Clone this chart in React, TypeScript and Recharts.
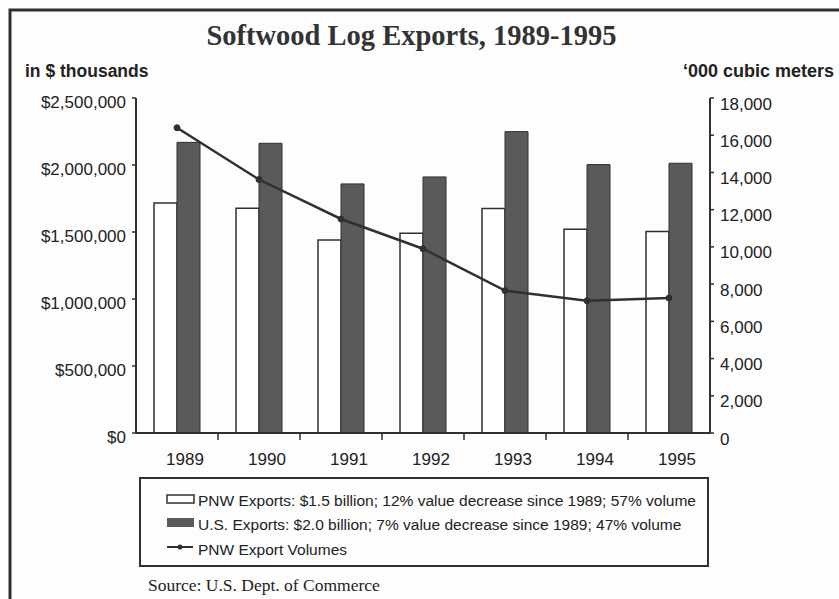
import React from 'react';
import { ComposedChart, Bar, Line, XAxis, YAxis } from 'recharts';

const years = ['1989', '1990', '1991', '1992', '1993', '1994', '1995'];
const pnwExports = [1717000, 1677000, 1441000, 1491000, 1675000, 1521000, 1503000];
const usExports = [2169000, 2162000, 1859000, 1911000, 2249000, 2003000, 2013000];
const pnwVolumes = [16400, 13620, 11500, 9900, 7650, 7100, 7250];
const leftTicks = [0, 500000, 1000000, 1500000, 2000000, 2500000];
const rightTicks = [0, 2000, 4000, 6000, 8000, 10000, 12000, 14000, 16000, 18000];

const legendLabels = [
  'PNW Exports: $1.5 billion; 12% value decrease since 1989; 57% volume',
  'U.S. Exports: $2.0 billion; 7% value decrease since 1989; 47% volume',
  'PNW Export Volumes',
];

const data = years.map((year, i) => ({
  year,
  pnw: pnwExports[i],
  us: usExports[i],
  volume: pnwVolumes[i],
}));

const CHART_W = 839;
const CHART_H = 599;
const LEFT_W = 136;
const RIGHT_W = 129;
const BAND_HALF = (CHART_W - LEFT_W - RIGHT_W) / years.length / 2;

const INK = '#303030';
const DARK = '#5a5a5a';
const SANS = '"Liberation Sans", Arial, sans-serif';
const SERIF = '"Liberation Serif", "Times New Roman", serif';

const fmtMoney = (v: number) => '$' + v.toLocaleString('en-US');
const fmtNum = (v: number) => v.toLocaleString('en-US');

function XTick(props: any) {
  const { x, y, payload } = props;
  const idx = years.indexOf(String(payload.value));
  const last = idx === years.length - 1;
  const tx = Number(x) + BAND_HALF;
  const ty = Number(y);
  return (
    <g className="year-tick">
      {!last && <rect x={tx - 0.75} y={ty} width={1.5} height={7} fill={INK} stroke="none" />}
      <text
        x={Number(x) + 8}
        y={ty + 26}
        textAnchor="middle"
        dominantBaseline="central"
        fontFamily={SANS}
        fontSize={17}
        fill="#222"
        stroke="none"
      >
        {payload.value}
      </text>
    </g>
  );
}

function LeftTick(props: any) {
  const { x, y, payload } = props;
  return (
    <text x={x} y={y + 4} textAnchor="end" dominantBaseline="central" fontFamily={SANS} fontSize={17} fill="#222">
      {fmtMoney(payload.value)}
    </text>
  );
}

function RightTick(props: any) {
  const { x, y, payload } = props;
  return (
    <text x={x} y={y + 6} textAnchor="start" dominantBaseline="central" fontFamily={SANS} fontSize={17} fill="#222">
      {fmtNum(payload.value)}
    </text>
  );
}

export default function App() {
  return (
    <div
      style={{
        position: 'absolute',
        left: 0,
        top: 0,
        width: CHART_W,
        height: CHART_H,
        background: '#fdfdfd',
        overflow: 'hidden',
      }}
    >
      <ComposedChart
        width={CHART_W}
        height={CHART_H}
        data={data}
        margin={{ top: 98, right: 0, bottom: 126, left: 0 }}
        barGap={0}
      >
        <XAxis
          dataKey="year"
          xAxisId="x"
          height={40}
          interval={0}
          tickSize={0}
          tickMargin={0}
          tickLine={false}
          axisLine={{ stroke: INK, strokeWidth: 2 }}
          tick={(p: any) => <XTick {...p} />}
        />
        <YAxis
          yAxisId="left"
          orientation="left"
          width={LEFT_W}
          domain={[0, 2500000]}
          ticks={leftTicks}
          interval={0}
          tickSize={4}
          tickMargin={6}
          axisLine={{ stroke: INK, strokeWidth: 2 }}
          tickLine={{ stroke: INK, strokeWidth: 1.5 }}
          tick={(p: any) => <LeftTick {...p} />}
        />
        <YAxis
          yAxisId="right"
          orientation="right"
          width={RIGHT_W}
          domain={[0, 18000]}
          ticks={rightTicks}
          interval={0}
          tickSize={4}
          tickMargin={6}
          axisLine={{ stroke: INK, strokeWidth: 2 }}
          tickLine={{ stroke: INK, strokeWidth: 1.5 }}
          tick={(p: any) => <RightTick {...p} />}
        />
        <Bar
          xAxisId="x"
          yAxisId="left"
          dataKey="pnw"
          name={legendLabels[0]}
          fill="#ffffff"
          stroke={INK}
          strokeWidth={1.5}
          barSize={23}
          isAnimationActive={false}
        />
        <Bar
          xAxisId="x"
          yAxisId="left"
          dataKey="us"
          name={legendLabels[1]}
          fill={DARK}
          stroke={INK}
          strokeWidth={1}
          barSize={23}
          isAnimationActive={false}
        />
        <Line
          xAxisId="x"
          yAxisId="right"
          dataKey="volume"
          name={legendLabels[2]}
          type="linear"
          stroke={INK}
          strokeWidth={2.5}
          dot={{ r: 3, fill: INK, stroke: INK, strokeWidth: 1 }}
          isAnimationActive={false}
        />
      </ComposedChart>

      <svg
        width={CHART_W}
        height={CHART_H}
        style={{ position: 'absolute', left: 0, top: 0, pointerEvents: 'none' }}
      >
        <path d="M10 599 L10 10 L839 10" fill="none" stroke={INK} strokeWidth={3} />
        <text x={411.5} y={45} textAnchor="middle" fontFamily={SERIF} fontWeight="bold" fontSize={28.5} fill="#333">
          Softwood Log Exports, 1989-1995
        </text>
        <text x={25} y={77} fontFamily={SANS} fontWeight="bold" fontSize={17.5} fill="#222">
          in $ thousands
        </text>
        <text x={683} y={77} fontFamily={SANS} fontWeight="bold" fontSize={18} fill="#222">
          ‘000 cubic meters
        </text>

        <rect x={140} y={478} width={568} height={88} fill="none" stroke={INK} strokeWidth={2} />
        <rect x={167} y={495} width={27} height={8} fill="#ffffff" stroke={INK} strokeWidth={1.5} />
        <rect x={167} y={518} width={27} height={9} fill={DARK} />
        <line x1={167} x2={193} y1={547} y2={547} stroke={INK} strokeWidth={2} />
        <circle cx={180} cy={547} r={2.5} fill={INK} />
        {legendLabels.map((label, i) => (
          <text
            key={label}
            x={198}
            y={500 + i * 24.5}
            dominantBaseline="central"
            fontFamily={SANS}
            fontSize={15.5}
            fill="#222"
          >
            {label}
          </text>
        ))}
        <text x={148} y={591} fontFamily={SERIF} fontSize={17.5} fill="#222">
          Source: U.S. Dept. of Commerce
        </text>
      </svg>
    </div>
  );
}
